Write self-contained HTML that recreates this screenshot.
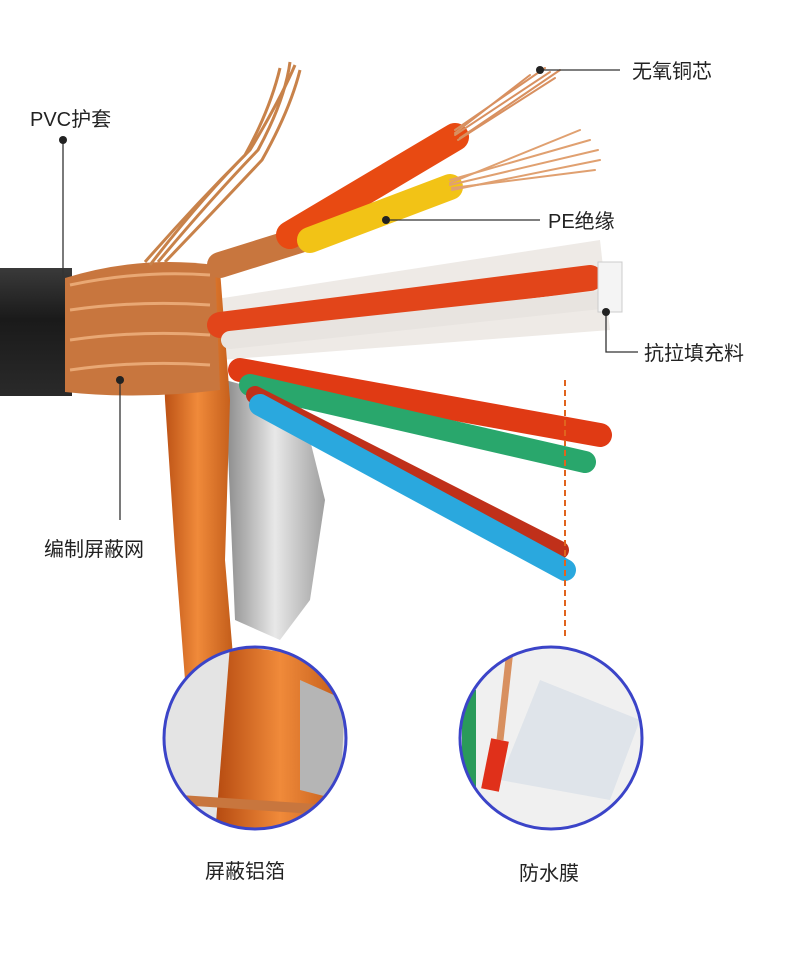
<!DOCTYPE html>
<html><head><meta charset="utf-8"><style>
html,body{margin:0;padding:0;background:#fff;}
body{width:790px;height:976px;overflow:hidden;position:relative;font-family:"Liberation Sans","Noto Sans CJK SC",sans-serif;}
.l{position:absolute;font-size:20px;color:#222;white-space:nowrap;}
</style></head><body>
<svg width="790" height="976" style="position:absolute;left:0;top:0">
<defs>
<linearGradient id="blk" x1="0" y1="0" x2="0" y2="1"><stop offset="0" stop-color="#3a3a3a"/><stop offset="0.4" stop-color="#1a1a1a"/><stop offset="1" stop-color="#2a2a2a"/></linearGradient>
<linearGradient id="org" x1="0" y1="0" x2="1" y2="0"><stop offset="0" stop-color="#b54a10"/><stop offset="0.5" stop-color="#f08a3a"/><stop offset="1" stop-color="#c05a18"/></linearGradient>
<linearGradient id="sil" x1="0" y1="0" x2="1" y2="0"><stop offset="0" stop-color="#8a8a8a"/><stop offset="0.5" stop-color="#e8e8e8"/><stop offset="1" stop-color="#a0a0a0"/></linearGradient>
<clipPath id="c1"><circle cx="255" cy="738" r="90"/></clipPath>
<clipPath id="c2"><circle cx="551" cy="738" r="90"/></clipPath>
</defs>
<rect x="0" y="0" width="790" height="976" fill="#fff"/>
<path d="M210 300 L600 240 L610 330 L220 360 Z" fill="#eeeae6"/>
<path d="M225 380 L300 400 L325 500 L310 600 L280 640 L235 620 L230 500 Z" fill="url(#sil)"/>
<path d="M160 270 L220 270 L230 400 L225 560 L235 680 L185 680 L175 550 L165 400 Z" fill="url(#org)"/>
<rect x="0" y="268" width="72" height="128" fill="url(#blk)"/>
<path d="M65 278 Q140 255 215 265 L220 390 Q140 400 65 392 Z" fill="#c8763e"/>
<path d="M70 285 Q140 270 210 275 M70 310 Q140 300 210 305 M70 340 Q140 330 210 335 M70 370 Q140 360 210 365" stroke="#e9a874" stroke-width="3" fill="none"/>
<g stroke="#c8824a" stroke-width="3" fill="none">
<path d="M150 265 Q200 200 250 150 Q280 100 295 65"/>
<path d="M158 262 Q210 200 258 150 Q285 100 290 62"/>
<path d="M145 262 Q195 205 245 155 Q270 110 280 68"/>
<path d="M165 262 Q215 210 262 160 Q290 110 300 70"/>
</g>
<g stroke-linecap="round" fill="none">
<path d="M220 265 L300 240" stroke="#c8763e" stroke-width="26"/>
<path d="M290 235 L455 137" stroke="#e84a12" stroke-width="28"/>
<g stroke="#d89060" stroke-width="2">
<path d="M455 135 L550 72"/><path d="M455 130 L545 68"/><path d="M458 140 L555 78"/><path d="M460 138 L560 70"/><path d="M455 133 L530 75"/>
</g>
<path d="M310 240 L450 187" stroke="#f2c316" stroke-width="26"/>
<g stroke="#e0a070" stroke-width="2">
<path d="M450 185 L598 150"/><path d="M450 180 L590 140"/><path d="M452 190 L600 160"/><path d="M450 183 L580 130"/><path d="M452 188 L595 170"/>
</g>
<path d="M220 325 L590 278" stroke="#e2451a" stroke-width="26"/>
<path d="M230 340 L600 300" stroke="#e8e4e0" stroke-width="18"/>
<path d="M240 370 L600 435" stroke="#e03a14" stroke-width="24"/>
<path d="M250 385 L585 462" stroke="#29a76c" stroke-width="22"/>
<path d="M255 395 L560 550" stroke="#c0301a" stroke-width="18"/>
<path d="M260 405 L565 570" stroke="#2aa8de" stroke-width="22"/>
</g>
<rect x="598" y="262" width="24" height="50" fill="#f4f4f4" stroke="#ccc"/>
<g stroke="#333" stroke-width="1.3" fill="none">
<path d="M540 70 L620 70"/>
<path d="M63 140 L63 278"/>
<path d="M386 220 L540 220"/>
<path d="M606 312 L606 352 L638 352"/>
<path d="M120 380 L120 520"/>
</g>
<g fill="#222"><circle cx="540" cy="70" r="4"/><circle cx="63" cy="140" r="4"/><circle cx="386" cy="220" r="4"/><circle cx="606" cy="312" r="4"/><circle cx="120" cy="380" r="4"/></g>
<path d="M565 380 L565 640" stroke="#e0641e" stroke-width="2" stroke-dasharray="6,4"/>
<g clip-path="url(#c1)">
<rect x="160" y="645" width="200" height="190" fill="#e4e4e4"/>
<path d="M230 645 L345 660 L330 830 L215 835 Z" fill="url(#org)"/>
<path d="M300 680 L345 700 L340 800 L300 790 Z" fill="#b5b5b5"/>
<path d="M180 800 L330 810" stroke="#c8763e" stroke-width="10"/>
</g>
<circle cx="255" cy="738" r="91" fill="none" stroke="#3b44c8" stroke-width="3"/>
<g clip-path="url(#c2)">
<rect x="455" y="645" width="200" height="190" fill="#f0f0f0"/>
<path d="M540 680 L640 720 L610 800 L500 780 Z" fill="#dfe4ea"/>
<rect x="462" y="690" width="14" height="120" fill="#2a9a5a"/>
<path d="M510 650 L500 740" stroke="#d89060" stroke-width="7"/>
<path d="M500 740 L490 790" stroke="#e0301a" stroke-width="18"/>
</g>
<circle cx="551" cy="738" r="91" fill="none" stroke="#3b44c8" stroke-width="3"/>
</svg>
<div class="l" style="left:632px;top:55px">无氧铜芯</div>
<div class="l" style="left:30px;top:103px">PVC护套</div>
<div class="l" style="left:548px;top:205px">PE绝缘</div>
<div class="l" style="left:644px;top:337px">抗拉填充料</div>
<div class="l" style="left:44px;top:533px">编制屏蔽网</div>
<div class="l" style="left:205px;top:855px">屏蔽铝箔</div>
<div class="l" style="left:519px;top:857px">防水膜</div>
</body></html>
